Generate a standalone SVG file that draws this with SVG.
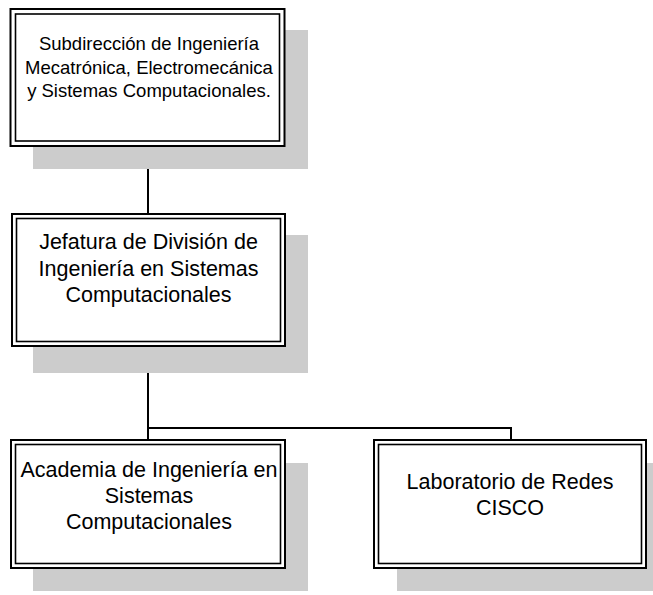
<svg xmlns="http://www.w3.org/2000/svg" width="653" height="595" viewBox="0 0 653 595">
<style>
.shadow{fill:#cccccc;stroke:none}
.outer{fill:#ffffff;stroke:#000;stroke-width:2}
.inner{fill:none;stroke:#000;stroke-width:1.6}
.t{font-family:"Liberation Sans",Arial,sans-serif;fill:#000;text-anchor:middle}
.t1{font-size:18.5px}
.t2{font-size:21.5px}
.conn{fill:none;stroke:#000;stroke-width:2}
</style>
<rect width="653" height="595" fill="#fff"/>
<g id="connectors">
<line class="conn" x1="148" y1="146" x2="148" y2="214"/>
<line class="conn" x1="148" y1="346" x2="148" y2="440"/>
<polyline class="conn" points="148,428 511,428 511,440"/>
</g>
<g id="node1">
<rect class="shadow" x="33" y="30" width="275" height="139"/>
<rect class="outer" x="10.5" y="9" width="274" height="137"/>
<rect class="inner" x="15.5" y="14" width="264" height="127"/>
<text class="t t1" x="149" y="50">Subdirección de Ingeniería</text>
<text class="t t1" x="149" y="74">Mecatrónica, Electromecánica</text>
<text class="t t1" x="149" y="97">y Sistemas Computacionales.</text>
</g>
<g id="node2">
<rect class="shadow" x="33" y="235" width="275" height="138"/>
<rect class="outer" x="12" y="214" width="273" height="132"/>
<rect class="inner" x="16.5" y="218.5" width="264" height="123"/>
<text class="t t2" x="148.5" y="249">Jefatura de División de</text>
<text class="t t2" x="148.5" y="276">Ingeniería en Sistemas</text>
<text class="t t2" x="148.5" y="302">Computacionales</text>
</g>
<g id="node3">
<rect class="shadow" x="33" y="463" width="275" height="128"/>
<rect class="outer" x="11" y="440" width="274" height="128"/>
<rect class="inner" x="15.5" y="444.5" width="265" height="119"/>
<text class="t t2" x="149" y="477">Academia de Ingeniería en</text>
<text class="t t2" x="149" y="503">Sistemas</text>
<text class="t t2" x="149" y="529">Computacionales</text>
</g>
<g id="node4">
<rect class="shadow" x="397" y="463" width="260" height="128"/>
<rect class="outer" x="374" y="440" width="272" height="128"/>
<rect class="inner" x="378.5" y="444.5" width="263" height="119"/>
<text class="t t2" x="510" y="489">Laboratorio de Redes</text>
<text class="t t2" x="510" y="515">CISCO</text>
</g>
</svg>
